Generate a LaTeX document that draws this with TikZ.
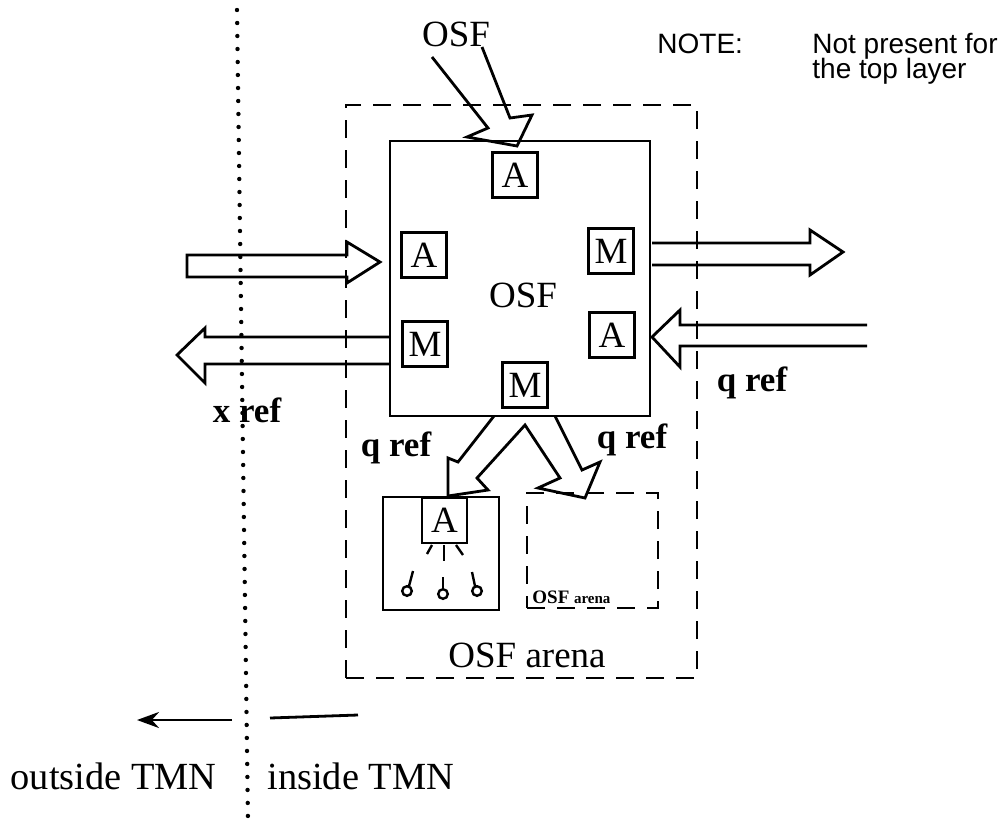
\documentclass[tikz,border=0pt]{standalone}
\usepackage{fontspec}
\setmainfont{Liberation Serif}
\newfontfamily\notefont{Liberation Sans}
\usetikzlibrary{arrows.meta}
\begin{document}
\begin{tikzpicture}[x=0.5pt,y=-0.5pt,
  lbl/.style={font=\fontsize{18.5}{20}\selectfont, inner sep=0pt},
  reflbl/.style={font=\bfseries\fontsize{17.5}{20}\selectfont, inner sep=0pt},
  notelbl/.style={font=\notefont\fontsize{14}{16}\selectfont, inner sep=0pt, anchor=base west},
  smallbox/.style={draw, line width=1.2pt, minimum width=22.5pt, minimum height=22.5pt, inner sep=0pt, font=\fontsize{18.5}{20}\selectfont},
  solidbox/.style={draw, line width=1.4pt, inner sep=0pt},
  dashbox/.style={draw, line width=1.4pt, inner sep=0pt, dash pattern=on 9pt off 6pt},
  blk/.style={draw, line width=1.4pt, line join=miter},
  thin/.style={line width=1.2pt}]
\useasboundingbox (0,0) rectangle (1006,825);

% dotted TMN boundary
\coordinate (dtop) at (237,10);
\coordinate (dbot) at (248,822);
\draw[line width=2.2pt, line cap=round, dash pattern=on 0pt off 6.5pt] (dtop) -- (dbot);

% outer OSF arena
\node[dashbox, minimum width=175.5pt, minimum height=286.5pt] (outer) at (521.5,391.5) {};

% main OSF box
\node[solidbox, minimum width=130pt, minimum height=137.5pt] (osf) at (520,278.5) {};
\node[lbl] (osflbl) at (523,295) {OSF};

% small A / M boxes
\node[smallbox] (aT) at (515,175) {A};
\node[smallbox] (aL) at (424,255) {A};
\node[smallbox] (mR) at (611,251) {M};
\node[smallbox] (mL) at (425,344) {M};
\node[smallbox] (aR) at (612,335) {A};
\node[smallbox] (mB) at (525,385) {M};

% lower sub boxes
\node[solidbox, minimum width=58pt, minimum height=56.5pt] (sub) at (441,553.5) {};
\node[smallbox, anchor=north] (subA) at (444.5,497) {A};
\node[dashbox, minimum width=65.5pt, minimum height=57.5pt] (arena) at (592.5,550.5) {};
\node[font=\bfseries\fontsize{9.5}{10}\selectfont, inner sep=0pt, anchor=west] (arenalbl) at (532,597) {OSF {\fontsize{7.5}{8}\selectfont arena}};

% rays and switch symbols
\draw[thin] (432,545) -- (427,554);
\draw[thin] (444,545) -- (444,561);
\draw[thin] (456,545) -- (463,555);
\draw[thin] (407,591) circle[radius=2.4pt];
\draw[thin] (409,586) -- (413,571);
\draw[thin] (443,594) circle[radius=2.4pt];
\draw[thin] (443,589) -- (443,577);
\draw[thin] (477,591) circle[radius=2.4pt];
\draw[thin] (475,586) -- (472,572);

% block arrows
% top OSF arrow
\draw[blk] (432,57) -- (488,128) -- (467,137) -- (517,146) -- (532,115) -- (510,118) -- (482,47);
% left input arrow
\draw[blk] (187,255) -- (347,255) -- (347,242) -- (380,262) -- (347,283) -- (347,277) -- (187,277) -- cycle;
% left output arrow
\draw[blk] (390,337) -- (205,337) -- (205,328) -- (177,355) -- (205,383) -- (205,364) -- (390,364);
% right output arrow
\draw[blk] (652,243) -- (810,243) -- (810,230) -- (843,252) -- (810,275) -- (810,265) -- (652,265);
% right input arrow
\draw[blk] (867,325) -- (680,325) -- (680,310) -- (652,337) -- (680,367) -- (680,346) -- (867,346);
% lower split arrows
\draw[blk] (494,416) -- (458,462) -- (448,458) -- (448,496) -- (488,490) -- (477,478) -- (525,425)
  -- (560,478) -- (538,488) -- (585,498) -- (600,462) -- (582,470) -- (555,416);

% labels
\node[lbl] (osftop) at (456,34) {OSF};
\node[reflbl] (xref) at (247,410) {x ref};
\node[reflbl] (qref1) at (396,448) {q ref};
\node[reflbl] (qref2) at (632,440) {q ref};
\node[reflbl] (qref3) at (752,383) {q ref};
\node[lbl] (arenabig) at (527,655) {OSF arena};

% note
\node[notelbl] (note) at (657,53) {NOTE:};
\node[notelbl] (note1) at (812,53) {Not present for};
\node[notelbl] (note2) at (812,78) {the top layer};

% outside / inside TMN
\coordinate (oa1) at (232,720);
\coordinate (oa2) at (137,720);
\draw[line width=1.4pt, -{Stealth[length=11pt,width=8pt]}] (oa1) -- (oa2);
\coordinate (ia1) at (270,718);
\coordinate (ia2) at (358,715);
\draw[line width=1.4pt] (ia1) -- (ia2);
\node[lbl, font=\fontsize{19.2}{21}\selectfont, anchor=east] (outside) at (217,776) {outside TMN};
\node[lbl, font=\fontsize{19.2}{21}\selectfont, anchor=west] (inside) at (267,776) {inside TMN};
\end{tikzpicture}
\end{document}
